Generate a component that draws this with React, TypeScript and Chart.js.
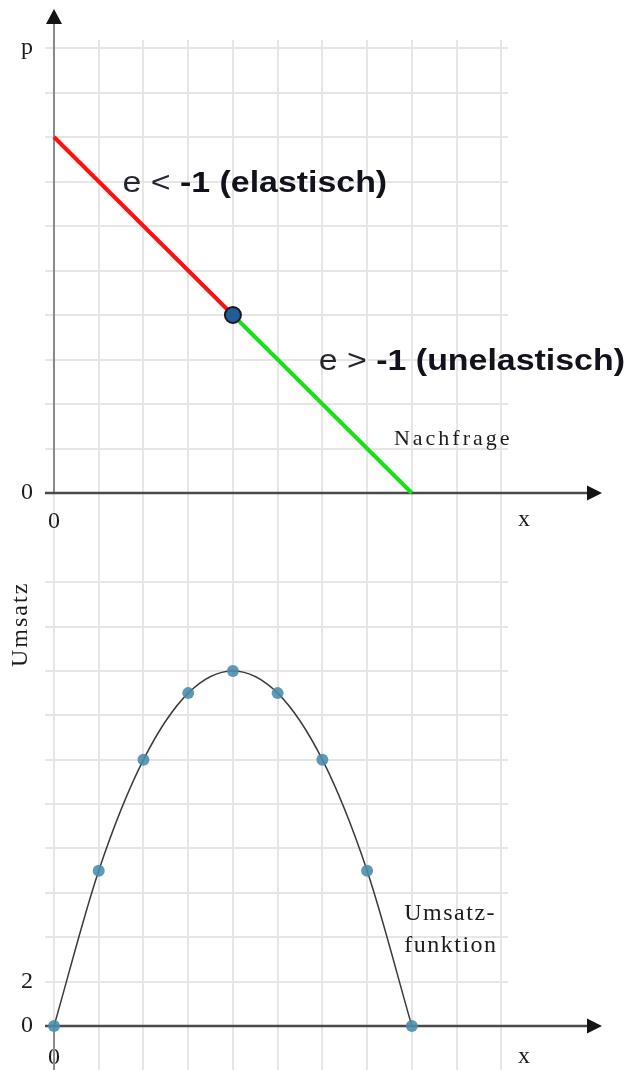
import { useEffect, useRef } from "react";
import { Chart, registerables } from "chart.js";

Chart.register(...registerables);

// Demand curve p(x), split at the unit-elastic point
const elasticQty = [0, 4];
const elasticPrice = [8, 4];
const inelasticQty = [4, 8];
const inelasticPrice = [4, 0];
const unitElasticQty = [4];
const unitElasticPrice = [4];

// Revenue R(x) = p(x) · x
const revenueQty = [0, 1, 2, 3, 4, 5, 6, 7, 8];
const revenueVals = [0, 7, 12, 15, 16, 15, 12, 7, 0];

// Grid ticks and the few labels that are shown on them
const qtyTicks = [0, 1, 2, 3, 4, 5, 6, 7, 8, 9, 10];
const priceTicks = [0, 1, 2, 3, 4, 5, 6, 7, 8, 9, 10];
const revenueTicks = [0, 2, 4, 6, 8, 10, 12, 14, 16, 18, 20];
const qtyTickLabels: Record<number, string> = { 0: "0" };
const priceTickLabels: Record<number, string> = { 0: "0", 10: "p" };
const revenueTickLabels: Record<number, string> = { 0: "0", 2: "2" };

const SERIF = '"Liberation Serif", "DejaVu Serif", serif';
const SANS = '"Liberation Sans", Arial, sans-serif';
const GRID = "#e6e6e6";
const INK = "#1c1c1c";

const toPoints = (xs: number[], ys: number[]) => xs.map((x, i) => ({ x, y: ys[i] }));

const noPadding = (s: any) => {
  s.paddingTop = 0;
  s.paddingBottom = 0;
  s.paddingLeft = 0;
  s.paddingRight = 0;
};

function qtyScale(tickLen: number, labelPad: number) {
  return {
    type: "linear",
    min: 0,
    max: 10.15,
    afterBuildTicks: (s: any) => {
      s.ticks = qtyTicks.map((v) => ({ value: v }));
    },
    ticks: {
      autoSkip: false,
      maxRotation: 0,
      padding: labelPad,
      color: INK,
      font: { family: SERIF, size: 24 },
      callback: (v: any) => qtyTickLabels[v] ?? "",
    },
    grid: { color: GRID, lineWidth: 2, tickLength: tickLen, drawTicks: true },
    border: { display: false },
    afterFit: (s: any) => {
      s.height = tickLen;
      noPadding(s);
    },
  };
}

function valueScale(max: number, ticks: number[], labels: Record<number, string>) {
  return {
    type: "linear",
    min: 0,
    max,
    afterBuildTicks: (s: any) => {
      s.ticks = ticks.map((v) => ({ value: v }));
    },
    ticks: {
      autoSkip: false,
      padding: 12,
      color: INK,
      font: { family: SERIF, size: 24 },
      callback: (v: any) => labels[v] ?? "",
    },
    grid: { color: GRID, lineWidth: 2, tickLength: 9, drawTicks: true },
    border: { display: false },
    afterFit: (s: any) => {
      s.width = 54;
      noPadding(s);
    },
  };
}

// Coordinate axes with arrow heads, through the origin
function drawAxes(chart: any, tipTop: number, tipRight: number) {
  const { ctx } = chart;
  const xs = chart.scales.x;
  const ys = chart.scales.y;
  const x0 = xs.getPixelForValue(0);
  const y0 = ys.getPixelForValue(0);
  ctx.save();
  ctx.strokeStyle = "#8a8a8a";
  ctx.lineWidth = 2;
  ctx.beginPath();
  ctx.moveTo(x0, y0);
  ctx.lineTo(x0, tipTop + 10);
  ctx.stroke();
  ctx.fillStyle = "#141414";
  ctx.beginPath();
  ctx.moveTo(x0, tipTop);
  ctx.lineTo(x0 - 8, tipTop + 15);
  ctx.lineTo(x0 + 8, tipTop + 15);
  ctx.closePath();
  ctx.fill();

  ctx.strokeStyle = "#4a4a4a";
  ctx.lineWidth = 2.5;
  ctx.beginPath();
  ctx.moveTo(x0 - 9, y0);
  ctx.lineTo(tipRight - 10, y0);
  ctx.stroke();
  ctx.beginPath();
  ctx.moveTo(tipRight, y0);
  ctx.lineTo(tipRight - 15, y0 - 7.5);
  ctx.lineTo(tipRight - 15, y0 + 7.5);
  ctx.closePath();
  ctx.fill();
  ctx.restore();
}

function drawSerif(ctx: any, text: string, x: number, y: number, size: number, spacing: number) {
  ctx.save();
  ctx.font = `${size}px ${SERIF}`;
  ctx.fillStyle = INK;
  ctx.textBaseline = "alphabetic";
  (ctx as any).letterSpacing = `${spacing}px`;
  ctx.fillText(text, x, y);
  ctx.restore();
}

function drawElasticity(ctx: any, x: number, baseline: number, lead: string, rest: string) {
  ctx.save();
  ctx.translate(x, baseline);
  ctx.scale(1.13, 1);
  ctx.textBaseline = "alphabetic";
  ctx.font = `30px ${SANS}`;
  ctx.fillStyle = "#25252f";
  ctx.fillText(lead, 0, 0);
  const w = ctx.measureText(lead).width;
  ctx.font = `bold 30px ${SANS}`;
  ctx.fillStyle = "#12121c";
  ctx.fillText(rest, w, 0);
  ctx.restore();
}

function drawAxisLetterX(chart: any, offset: number) {
  const { ctx } = chart;
  const y0 = chart.scales.y.getPixelForValue(0);
  ctx.save();
  ctx.font = `24px ${SERIF}`;
  ctx.fillStyle = INK;
  ctx.textAlign = "center";
  ctx.textBaseline = "middle";
  ctx.fillText("x", 524, y0 + offset);
  ctx.restore();
}

const demandDecor = {
  id: "demandDecor",
  beforeDatasetsDraw(chart: any) {
    drawAxes(chart, 9, 602);
  },
  afterDatasetsDraw(chart: any) {
    const { ctx } = chart;
    const xs = chart.scales.x;
    const ys = chart.scales.y;
    drawElasticity(ctx, xs.getPixelForValue(1.53), ys.getPixelForValue(6.76), "e < ", "-1 (elastisch)");
    drawElasticity(ctx, xs.getPixelForValue(5.92), ys.getPixelForValue(2.76), "e > ", "-1 (unelastisch)");
    drawSerif(ctx, "Nachfrage", xs.getPixelForValue(7.6), ys.getPixelForValue(1.08), 22, 3);
    drawAxisLetterX(chart, 27);
  },
};

const revenueDecor = {
  id: "revenueDecor",
  beforeDatasetsDraw(chart: any) {
    drawAxes(chart, 548, 602);
  },
  afterDatasetsDraw(chart: any) {
    const { ctx } = chart;
    const xs = chart.scales.x;
    const ys = chart.scales.y;
    drawSerif(ctx, "Umsatz-", xs.getPixelForValue(7.83), ys.getPixelForValue(4.77), 24, 1.5);
    drawSerif(ctx, "funktion", xs.getPixelForValue(7.83), ys.getPixelForValue(3.33), 24, 1.5);
    // rotated axis title
    ctx.save();
    ctx.translate(27, ys.getPixelForValue(18.1));
    ctx.rotate(-Math.PI / 2);
    ctx.font = `24px ${SERIF}`;
    ctx.fillStyle = INK;
    ctx.textAlign = "center";
    ctx.textBaseline = "alphabetic";
    (ctx as any).letterSpacing = "2px";
    ctx.fillText("Umsatz", 0, 0);
    ctx.restore();
    drawAxisLetterX(chart, 31);
  },
};

const common = {
  responsive: false,
  animation: false,
  devicePixelRatio: 1,
  plugins: { legend: { display: false }, tooltip: { enabled: false } },
  events: [],
};

export default function App() {
  const topRef = useRef<HTMLCanvasElement>(null);
  const bottomRef = useRef<HTMLCanvasElement>(null);

  useEffect(() => {
    const demand = new Chart(topRef.current!, {
      type: "scatter",
      data: {
        datasets: [
          {
            data: toPoints(unitElasticQty, unitElasticPrice),
            pointRadius: 8,
            pointBackgroundColor: "#235c98",
            pointBorderColor: "#1a1a1a",
            pointBorderWidth: 2,
            showLine: false,
            clip: false,
          },
          {
            data: toPoints(elasticQty, elasticPrice),
            showLine: true,
            borderColor: "#ff1010",
            borderWidth: 4,
            pointRadius: 0,
            clip: false,
          },
          {
            data: toPoints(inelasticQty, inelasticPrice),
            showLine: true,
            borderColor: "#18e018",
            borderWidth: 4,
            pointRadius: 0,
            clip: false,
          },
        ],
      },
      options: {
        ...common,
        layout: { autoPadding: false, padding: { left: 0, top: 40, right: 119, bottom: 0 } },
        scales: {
          x: qtyScale(47, -33),
          y: valueScale(10.18, priceTicks, priceTickLabels),
        },
      } as any,
      plugins: [demandDecor],
    });

    const revenue = new Chart(bottomRef.current!, {
      type: "scatter",
      data: {
        datasets: [
          {
            data: toPoints(revenueQty, revenueVals),
            showLine: true,
            cubicInterpolationMode: "monotone",
            borderColor: "#3a3a3a",
            borderWidth: 1.5,
            pointRadius: 6,
            pointBorderWidth: 0,
            pointBackgroundColor: "rgba(72, 140, 172, 0.88)",
            clip: false,
          },
        ],
      },
      options: {
        ...common,
        layout: { autoPadding: false, padding: { left: 0, top: 0, right: 119, bottom: 0 } },
        scales: {
          x: qtyScale(44, -27),
          y: valueScale(21.9, revenueTicks, revenueTickLabels),
        },
      } as any,
      plugins: [revenueDecor],
    });

    return () => {
      demand.destroy();
      revenue.destroy();
    };
  }, []);

  return (
    <div style={{ position: "absolute", left: 0, top: 0, width: 627, height: 1070, background: "#fff" }}>
      <canvas ref={topRef} width={627} height={540} style={{ display: "block" }} />
      <canvas ref={bottomRef} width={627} height={530} style={{ display: "block" }} />
    </div>
  );
}
